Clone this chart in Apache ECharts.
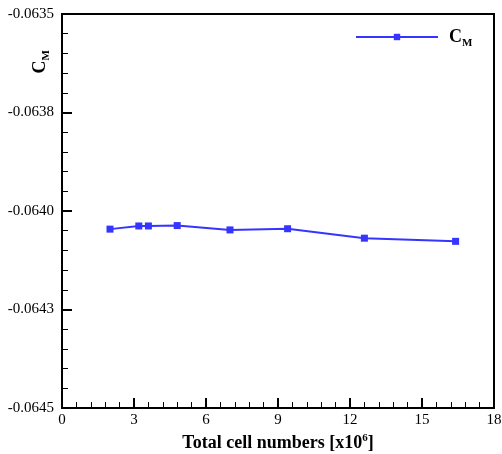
<!DOCTYPE html>
<html>
<head>
<meta charset="utf-8">
<script src="https://cdn.jsdelivr.net/npm/echarts@6/dist/echarts.min.js"></script>
<style>html,body{margin:0;padding:0;background:#fff;}#c{width:502px;height:454px;}</style>
</head>
<body>
<div id="c"></div>
<script>
var cellNumbers = [2.0, 3.2, 3.6, 4.8, 7.0, 9.4, 12.6, 16.4];
var cmValues = [-0.064046, -0.064038, -0.064038, -0.064037, -0.064048, -0.064045, -0.064069, -0.064077];
var yTickLabels = ['-0.0645', '-0.0643', '-0.0640', '-0.0638', '-0.0635'];
var xTickLabels = ['0', '3', '6', '9', '12', '15', '18'];

var FONT = 'Liberation Serif';
var BLUE = '#3535ff';
var chart = echarts.init(document.getElementById('c'), null, {renderer: 'canvas'});
var yMin = -0.0645, yInt = 0.00025;

chart.setOption({
  animation: false,
  backgroundColor: '#fff',
  grid: {left: 62, right: 8, top: 14, bottom: 46, show: true, borderColor: '#000', borderWidth: 2, backgroundColor: 'transparent', containLabel: false, outerBoundsMode: 'none'},
  legend: {
    left: 350, top: 23,
    itemWidth: 82, itemHeight: 8, itemGap: 10,
    data: ['CM'],
    formatter: function () { return '{c|C}{m|M}'; },
    textStyle: {
      fontFamily: FONT, color: '#000',
      rich: {
        c: {fontFamily: FONT, fontWeight: 'bold', fontSize: 18, color: '#000', lineHeight: 18, verticalAlign: 'bottom', padding: [0, 0, 0, 6]},
        m: {fontFamily: FONT, fontWeight: 'bold', fontSize: 11, color: '#000', lineHeight: 11, verticalAlign: 'bottom', padding: [0, 0, -3, 0]}
      }
    }
  },
  xAxis: {
    type: 'value', min: 0, max: 18, interval: 3,
    name: '{t|Total cell numbers [x10}{s|6}{t|]}',
    nameLocation: 'middle', nameGap: 21,
    nameTextStyle: {
      rich: {
        t: {fontFamily: FONT, fontWeight: 'bold', fontSize: 18, color: '#000', lineHeight: 19, verticalAlign: 'bottom'},
        s: {fontFamily: FONT, fontWeight: 'bold', fontSize: 11, color: '#000', lineHeight: 11, verticalAlign: 'top'}
      }
    },
    axisLine: {show: true, onZero: false, lineStyle: {color: '#000', width: 2}},
    axisTick: {show: true, inside: true, length: 10, lineStyle: {color: '#000', width: 2}},
    minorTick: {show: true, splitNumber: 5, length: 6, lineStyle: {color: '#000', width: 1}},
    splitLine: {show: false},
    axisLabel: {
      fontFamily: FONT, fontSize: 15, color: '#000', margin: 5,
      formatter: function (v) { var i = Math.round(v / 3); return xTickLabels[i] !== undefined ? xTickLabels[i] : ''; }
    }
  },
  yAxis: {
    type: 'value', min: yMin, max: -0.0635, interval: yInt,
    axisLine: {show: true, onZero: false, lineStyle: {color: '#000', width: 2}},
    axisTick: {show: true, inside: true, length: 10, lineStyle: {color: '#000', width: 2}},
    minorTick: {show: true, splitNumber: 5, length: 6, lineStyle: {color: '#000', width: 1}},
    splitLine: {show: false},
    axisLabel: {
      fontFamily: FONT, fontSize: 15, color: '#000', margin: 8,
      formatter: function (v) { var i = Math.round((v - yMin) / yInt); return yTickLabels[i] !== undefined ? yTickLabels[i] : ''; }
    }
  },
  graphic: [{
    type: 'text', left: 31, top: 50, rotation: Math.PI / 2,
    style: {
      text: '{c|C}{m|M}',
      rich: {
        c: {fontFamily: FONT, fontWeight: 'bold', fontSize: 18, fill: '#000', lineHeight: 18, verticalAlign: 'bottom'},
        m: {fontFamily: FONT, fontWeight: 'bold', fontSize: 11, fill: '#000', lineHeight: 11, verticalAlign: 'bottom', padding: [0, 0, -3, 0]}
      }
    }
  }],
  series: [{
    name: 'CM', type: 'line',
    data: cellNumbers.map(function (x, i) { return [x, cmValues[i]]; }),
    symbol: 'rect', symbolSize: 7, showSymbol: true,
    lineStyle: {color: BLUE, width: 2},
    itemStyle: {color: BLUE}
  }]
});
</script>
</body>
</html>
